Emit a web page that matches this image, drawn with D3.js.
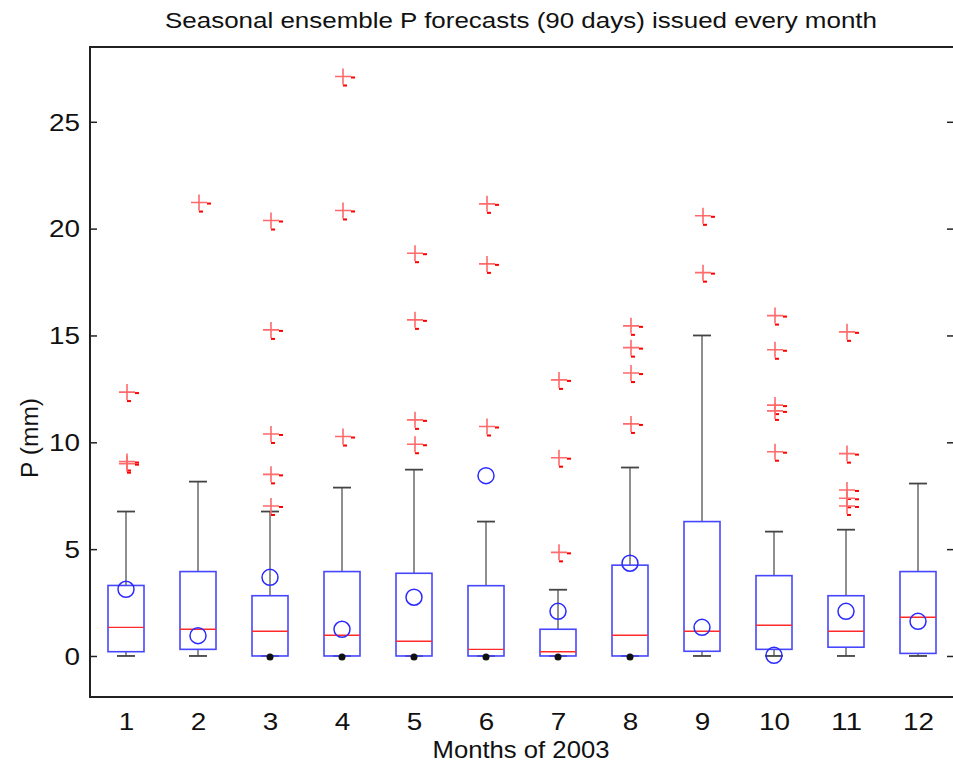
<!DOCTYPE html>
<html>
<head>
<meta charset="utf-8">
<script src="https://cdn.jsdelivr.net/npm/d3@7"></script>
<style>
    body { margin: 0; background: #fff; }
    text { font-family: "Liberation Sans", Arial, sans-serif; fill: #111; }
</style>
</head>
<body>
<script>
(function(){

    // chart data
    var months = [1, 2, 3, 4, 5, 6, 7, 8, 9, 10, 11, 12];
    var q1 = [0.2, 0.31, 0, 0, 0, 0, 0, 0, 0.22, 0.31, 0.41, 0.12];
    var medians = [1.34, 1.25, 1.16, 0.97, 0.69, 0.31, 0.2, 0.97, 1.16, 1.44, 1.16, 1.81];
    var q3 = [3.3, 3.95, 2.82, 3.95, 3.87, 3.29, 1.25, 4.25, 6.29, 3.76, 2.82, 3.95];
    var whiskerLow = [0, 0, 0, 0, 0, 0, 0, 0, 0, 0, 0, 0];
    var whiskerHigh = [6.76, 8.16, 6.76, 7.88, 8.72, 6.29, 3.1, 8.82, 15.0, 5.82, 5.91, 8.07];
    var means = [3.12, 0.95, 3.68, 1.25, 2.75, 8.44, 2.09, 4.34, 1.34, 0.03, 2.09, 1.62];
    var outliers = [
        [12.35, 9.1, 9.0],
        [21.22],
        [20.38, 15.26, 10.39, 8.5, 7.02],
        [27.12, 20.85, 10.27],
        [18.85, 15.73, 11.05, 9.91],
        [21.16, 18.35, 10.74],
        [12.92, 9.28, 4.85],
        [15.45, 14.43, 13.24, 10.86],
        [20.6, 17.94],
        [15.93, 14.33, 11.74, 11.47, 9.56],
        [15.17, 9.47, 7.77, 7.38, 7.02],
        []
    ];
    var zeroDots = [3, 4, 5, 6, 7, 8];
    var yTicks = [0, 5, 10, 15, 20, 25];

    var titleText = "Seasonal ensemble P forecasts (90 days) issued every month";
    var xLabel = "Months of 2003";
    var yLabel = "P (mm)";

    // frame
    var width = 953, height = 767;
    var left = 90, right = 954, top = 47, bottom = 697;

    var svg = d3.select("body")
        .append("svg")
        .attr("width", width)
        .attr("height", height);

    var xScale = d3.scaleLinear()
        .domain([0.5, 12.5])
        .range([left, right]);

    var yScale = d3.scaleLinear()
        .domain([-1.92, 28.5])
        .range([bottom, top]);

    var step = xScale(2) - xScale(1);
    var boxW = step / 2, capW = step / 4;

    // the figure's text is a bit stretched sideways
    function digitWidth(d){ return String(d).length * 15.5; }

    // build one record per month
    var boxes = months.map(function(m, i){
        return {month: m, q1: q1[i], med: medians[i], q3: q3[i],
            lo: whiskerLow[i], hi: whiskerHigh[i], mean: means[i], out: outliers[i]};
    });

    // axes
    var yAxis = d3.axisLeft(yScale)
        .tickValues(yTicks)
        .tickSize(-7)
        .tickPadding(10);

    var gy = svg.append("g")
        .attr("transform", "translate(" + left + ",0)")
        .call(yAxis);
    gy.select(".domain").remove();
    gy.selectAll("line").attr("stroke", "#222").attr("stroke-width", 1.5);
    gy.selectAll("text")
        .style("font-size", "23px")
        .attr("dy", "0.36em")
        .attr("textLength", digitWidth)
        .attr("lengthAdjust", "spacingAndGlyphs");

    var yAxisR = d3.axisRight(yScale)
        .tickValues(yTicks)
        .tickSize(-7)
        .tickFormat("");
    var gyr = svg.append("g")
        .attr("transform", "translate(" + right + ",0)")
        .call(yAxisR);
    gyr.select(".domain").remove();
    gyr.selectAll("line").attr("stroke", "#222").attr("stroke-width", 1.5);

    var xAxis = d3.axisBottom(xScale)
        .tickValues(months)
        .tickSize(0)
        .tickPadding(17)
        .tickFormat(d3.format("d"));
    var gx = svg.append("g")
        .attr("transform", "translate(0," + bottom + ")")
        .call(xAxis);
    gx.select(".domain").remove();
    gx.selectAll("text")
        .style("font-size", "23px")
        .attr("textLength", digitWidth)
        .attr("lengthAdjust", "spacingAndGlyphs");

    // plot frame
    svg.append("rect")
        .attr("x", left)
        .attr("y", top)
        .attr("width", right - left)
        .attr("height", bottom - top)
        .attr("fill", "none")
        .attr("stroke", "#222")
        .attr("stroke-width", 2);

    var g = svg.append("g");

    // whiskers
    g.selectAll(".whiskerHi")
        .data(boxes).enter().append("line")
        .attr("x1", function(d){ return xScale(d.month); })
        .attr("x2", function(d){ return xScale(d.month); })
        .attr("y1", function(d){ return yScale(d.q3); })
        .attr("y2", function(d){ return yScale(d.hi); })
        .attr("stroke", "#8f8f8f").attr("stroke-width", 2);

    g.selectAll(".whiskerLo")
        .data(boxes).enter().append("line")
        .attr("x1", function(d){ return xScale(d.month); })
        .attr("x2", function(d){ return xScale(d.month); })
        .attr("y1", function(d){ return yScale(d.q1); })
        .attr("y2", function(d){ return yScale(d.lo); })
        .attr("stroke", "#8f8f8f").attr("stroke-width", 2);

    // caps
    g.selectAll(".capHi")
        .data(boxes).enter().append("line")
        .attr("x1", function(d){ return xScale(d.month) - capW / 2; })
        .attr("x2", function(d){ return xScale(d.month) + capW / 2; })
        .attr("y1", function(d){ return yScale(d.hi); })
        .attr("y2", function(d){ return yScale(d.hi); })
        .attr("stroke", "#444").attr("stroke-width", 1.8);

    g.selectAll(".capLo")
        .data(boxes).enter().append("line")
        .attr("x1", function(d){ return xScale(d.month) - capW / 2; })
        .attr("x2", function(d){ return xScale(d.month) + capW / 2; })
        .attr("y1", function(d){ return yScale(d.lo); })
        .attr("y2", function(d){ return yScale(d.lo); })
        .attr("stroke", "#444").attr("stroke-width", 1.8);

    // boxes
    g.selectAll(".box")
        .data(boxes).enter().append("rect")
        .attr("x", function(d){ return xScale(d.month) - boxW / 2; })
        .attr("y", function(d){ return yScale(d.q3); })
        .attr("width", boxW)
        .attr("height", function(d){ return yScale(d.q1) - yScale(d.q3); })
        .attr("fill", "none")
        .attr("stroke", "#4646ff")
        .attr("stroke-width", 1.6);

    // medians
    g.selectAll(".median")
        .data(boxes).enter().append("line")
        .attr("x1", function(d){ return xScale(d.month) - boxW / 2; })
        .attr("x2", function(d){ return xScale(d.month) + boxW / 2; })
        .attr("y1", function(d){ return yScale(d.med); })
        .attr("y2", function(d){ return yScale(d.med); })
        .attr("stroke", "#ff2a2a").attr("stroke-width", 1.4);

    // black dots at zero
    g.selectAll(".zdot")
        .data(zeroDots).enter().append("circle")
        .attr("cx", function(d){ return xScale(d); })
        .attr("cy", yScale(0) + 1)
        .attr("r", 3.5)
        .attr("fill", "#111");

    // means
    g.selectAll(".mean")
        .data(boxes).enter().append("circle")
        .attr("cx", function(d){ return xScale(d.month); })
        .attr("cy", function(d){ return yScale(d.mean); })
        .attr("r", 8)
        .attr("fill", "none")
        .attr("stroke", "#2a2aff")
        .attr("stroke-width", 1.5);

    // outliers as red plus markers
    var outPts = [];
    boxes.forEach(function(d){
        d.out.forEach(function(v){ outPts.push({month: d.month, v: v}); });
    });

    var marks = g.selectAll(".outlier")
        .data(outPts).enter().append("g")
        .attr("transform", function(d){
            return "translate(" + (xScale(d.month) + 1) + "," + yScale(d.v) + ")";
        });
    marks.append("path")
        .attr("d", "M-8,0H8M0,-8V8")
        .attr("stroke", "#ff6a6a")
        .attr("stroke-width", 1.6)
        .attr("fill", "none");
    marks.append("rect")
        .attr("x", 8).attr("y", 0).attr("width", 4).attr("height", 2)
        .attr("fill", "#ff0000");
    marks.append("rect")
        .attr("x", 0).attr("y", 8).attr("width", 4).attr("height", 2)
        .attr("fill", "#ff0000");

    // title and labels
    svg.append("text")
        .attr("x", 521)
        .attr("y", 28)
        .attr("text-anchor", "middle")
        .attr("textLength", 712)
        .attr("lengthAdjust", "spacingAndGlyphs")
        .style("font-size", "22px")
        .text(titleText);

    svg.append("text")
        .attr("x", 521)
        .attr("y", 758)
        .attr("text-anchor", "middle")
        .attr("textLength", 177)
        .attr("lengthAdjust", "spacingAndGlyphs")
        .style("font-size", "24px")
        .text(xLabel);

    svg.append("text")
        .attr("transform", "translate(38,438) rotate(-90)")
        .attr("text-anchor", "middle")
        .attr("textLength", 80)
        .attr("lengthAdjust", "spacingAndGlyphs")
        .style("font-size", "23px")
        .text(yLabel);

})();
</script>
</body>
</html>
